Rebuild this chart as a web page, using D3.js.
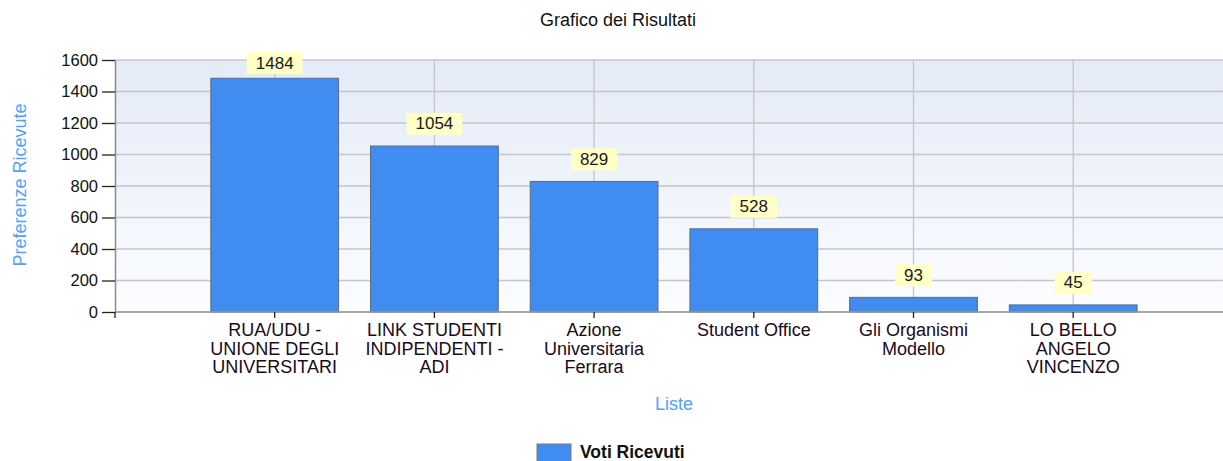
<!DOCTYPE html>
<html lang="it">
<head>
<meta charset="UTF-8">
<title>Grafico dei Risultati</title>
<script src="https://d3js.org/d3.v7.min.js"></script>
<style>
  * { margin: 0; padding: 0; box-sizing: border-box; }
  body { background: #fff; font-family: "Liberation Sans", Arial, sans-serif; }
  svg { display: block; }
</style>
</head>
<body>
<div id="chart"></div>
<script>
const categories = [
  ["RUA/UDU -", "UNIONE DEGLI", "UNIVERSITARI"],
  ["LINK STUDENTI", "INDIPENDENTI -", "ADI"],
  ["Azione", "Universitaria", "Ferrara"],
  ["Student Office"],
  ["Gli Organismi", "Modello"],
  ["LO BELLO", "ANGELO", "VINCENZO"]
];
const values = [1484, 1054, 829, 528, 93, 45];
const yTicks = [0, 200, 400, 600, 800, 1000, 1200, 1400, 1600];

const W = 1223, H = 461;
const plot = {left: 115, top: 60, bottom: 312, step: 159.7};

const svg = d3.select("#chart").append("svg")
  .attr("width", W).attr("height", H);

const defs = svg.append("defs");
const grad = defs.append("linearGradient")
  .attr("id", "bg").attr("x1", 0).attr("y1", 0).attr("x2", 0).attr("y2", 1);
grad.append("stop").attr("offset", "0%").attr("stop-color", "#e3ebf7");
grad.append("stop").attr("offset", "100%").attr("stop-color", "#fcfdff");

const x = d3.scaleLinear()
  .domain([0, categories.length + 1])
  .range([plot.left, plot.left + plot.step * (categories.length + 1)]);
const y = d3.scaleLinear().domain([0, 1600]).range([plot.bottom, plot.top]);

// background
svg.append("rect")
  .attr("x", plot.left).attr("y", plot.top)
  .attr("width", W - plot.left).attr("height", plot.bottom - plot.top)
  .attr("fill", "url(#bg)");

// horizontal grid
svg.append("g")
  .selectAll("line")
  .data(yTicks)
  .join("line")
  .attr("x1", plot.left).attr("x2", W)
  .attr("y1", d => y(d)).attr("y2", d => y(d))
  .attr("stroke", "#c4c6cc").attr("stroke-width", 1.3);

// vertical grid at category positions
svg.append("g")
  .selectAll("line")
  .data(d3.range(1, categories.length + 2))
  .join("line")
  .attr("x1", d => x(d)).attr("x2", d => x(d))
  .attr("y1", plot.top).attr("y2", plot.bottom)
  .attr("stroke", "#c4c6cc").attr("stroke-width", 1.3);

// bars
const bw = plot.step * 0.8;
svg.append("g")
  .selectAll("rect")
  .data(values)
  .join("rect")
  .attr("x", (d, i) => x(i + 1) - bw / 2)
  .attr("y", d => y(d))
  .attr("width", bw)
  .attr("height", d => y(0) - y(d))
  .attr("fill", "#418CF0")
  .attr("stroke", "#5f6b7d")
  .attr("stroke-width", 1);

// axes
const yAxis = svg.append("g")
  .attr("transform", `translate(${plot.left},0)`)
  .call(d3.axisLeft(y).tickValues(yTicks).tickFormat(d3.format("d"))
    .tickSize(13).tickPadding(4).tickSizeOuter(0));
yAxis.select(".domain").attr("stroke", "#8a8a8a").attr("stroke-width", 1.5);
yAxis.selectAll(".tick line").attr("stroke", "#222").attr("stroke-width", 1.3);
yAxis.selectAll("text")
  .style("font-family", "'Liberation Sans', Arial, sans-serif")
  .style("font-size", "16.5px").attr("fill", "#111");

svg.append("line")
  .attr("x1", plot.left).attr("x2", W)
  .attr("y1", plot.bottom).attr("y2", plot.bottom)
  .attr("stroke", "#9a9a9a").attr("stroke-width", 1.5);

const xTickG = svg.append("g");
xTickG.selectAll("line")
  .data(d3.range(0, categories.length + 1))
  .join("line")
  .attr("x1", d => x(d)).attr("x2", d => x(d))
  .attr("y1", plot.bottom).attr("y2", plot.bottom + 6)
  .attr("stroke", "#222").attr("stroke-width", 1.3);

// category labels
const catG = svg.append("g")
  .style("font-size", "18px").attr("fill", "#1a0a1a")
  .attr("text-anchor", "middle");
categories.forEach((lines, i) => {
  const t = catG.append("text").attr("x", x(i + 1)).attr("y", 336);
  lines.forEach((ln, j) => {
    t.append("tspan").attr("x", x(i + 1)).attr("dy", j === 0 ? 0 : 18.5).text(ln);
  });
});

// value labels (kept inside the top of the chart area)
const lab = svg.append("g");
values.forEach((v, i) => {
  const g = lab.append("g");
  const top = Math.max(y(v) - 33, 52);
  const box = g.append("rect").attr("fill", "#ffffc6");
  const txt = g.append("text")
    .attr("x", x(i + 1)).attr("y", top + 16.5)
    .attr("text-anchor", "middle")
    .style("font-size", "17px").attr("fill", "#1a1a1a")
    .text(v);
  const tw = txt.node().getComputedTextLength();
  box.attr("x", x(i + 1) - tw / 2 - 9).attr("y", top)
    .attr("width", tw + 18).attr("height", 22);
});

// title
svg.append("text")
  .attr("x", 618).attr("y", 26)
  .attr("text-anchor", "middle")
  .style("font-size", "18px").attr("fill", "#111")
  .text("Grafico dei Risultati");

// axis titles
svg.append("text")
  .attr("x", 674).attr("y", 410)
  .attr("text-anchor", "middle")
  .style("font-size", "18px").attr("fill", "#4da3ff")
  .text("Liste");

svg.append("text")
  .attr("transform", "translate(26,185) rotate(-90)")
  .attr("text-anchor", "middle")
  .style("font-size", "18px").attr("fill", "#4da3ff")
  .text("Preferenze Ricevute");

// legend
const leg = svg.append("g").attr("transform", "translate(537,444)");
leg.append("rect")
  .attr("width", 34).attr("height", 20)
  .attr("fill", "#418CF0").attr("stroke", "#7a7a7a");
leg.append("text")
  .attr("x", 43).attr("y", 14)
  .style("font-size", "17.5px").style("font-weight", "bold").attr("fill", "#111")
  .text("Voti Ricevuti");
</script>
</body>
</html>
